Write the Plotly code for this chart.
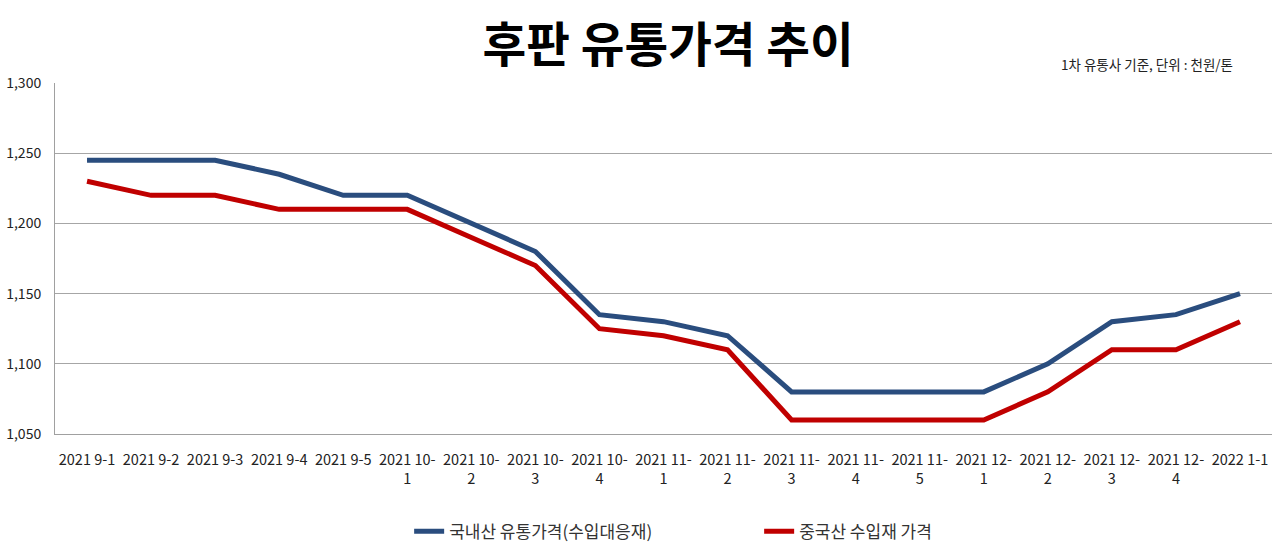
import plotly.graph_objects as go

FONT = "Noto Sans CJK KR"

categories = ["2021 9-1", "2021 9-2", "2021 9-3", "2021 9-4", "2021 9-5",
              "2021 10-<br>1", "2021 10-<br>2", "2021 10-<br>3", "2021 10-<br>4",
              "2021 11-<br>1", "2021 11-<br>2", "2021 11-<br>3", "2021 11-<br>4",
              "2021 11-<br>5", "2021 12-<br>1", "2021 12-<br>2", "2021 12-<br>3",
              "2021 12-<br>4", "2022 1-1"]

domestic = [1245, 1245, 1245, 1235, 1220, 1220, 1200, 1180, 1135, 1130,
            1120, 1080, 1080, 1080, 1080, 1100, 1130, 1135, 1150]
chinese = [1230, 1220, 1220, 1210, 1210, 1210, 1190, 1170, 1125, 1120,
           1110, 1060, 1060, 1060, 1060, 1080, 1110, 1110, 1130]

y_ticks = [1050, 1100, 1150, 1200, 1250, 1300]

fig = go.Figure()
fig.add_trace(go.Scatter(x=categories, y=domestic, mode="lines",
                         name="국내산 유통가격(수입대응재)",
                         line=dict(color="#2A4D7E", width=5)))
fig.add_trace(go.Scatter(x=categories, y=chinese, mode="lines",
                         name="중국산 수입재 가격",
                         line=dict(color="#C00000", width=5)))

fig.update_layout(
    width=1280, height=551,
    margin=dict(l=55, r=8, t=83, b=117),
    paper_bgcolor="white", plot_bgcolor="white",
    font=dict(family=FONT, color="#222222"),
    title=dict(text="<b>후판 유통가격 추이</b>", x=0.522, xanchor="center",
               y=0.918, yanchor="middle", font=dict(size=47.5, color="black")),
    xaxis=dict(type="category", range=[-0.5, 18.5], showgrid=False,
               showline=True, linecolor="#A0A0A0", linewidth=1,
               tickfont=dict(size=14.5, color="#222222"), ticks="",
               ticklabelstandoff=13, automargin=False),
    yaxis=dict(range=[1050, 1300], tickvals=y_ticks, tickformat=",",
               showgrid=True, gridcolor="#A6A6A6", gridwidth=1,
               showline=True, linecolor="#A0A0A0", linewidth=1,
               zeroline=False, tickfont=dict(size=14, color="#222222"),
               ticks="", ticklabelstandoff=10, automargin=False),
    legend=dict(orientation="h", x=0.291, xanchor="left", xref="paper",
                y=0.035, yanchor="middle", yref="container",
                font=dict(size=17, color="#333333"),
                entrywidth=305, entrywidthmode="pixels"),
    annotations=[dict(text="1차 유통사 기준, 단위 : 천원/톤", xref="paper", yref="paper",
                      x=0.97, xanchor="right", y=1.0, yanchor="bottom", yshift=7,
                      showarrow=False, font=dict(size=13.5, color="#222222"))],
)

# page body has a default 8px margin; drop it so the figure fills the window
fig.write_html("out.html", config={"displayModeBar": False},
               post_script="document.body.style.margin='0';")
